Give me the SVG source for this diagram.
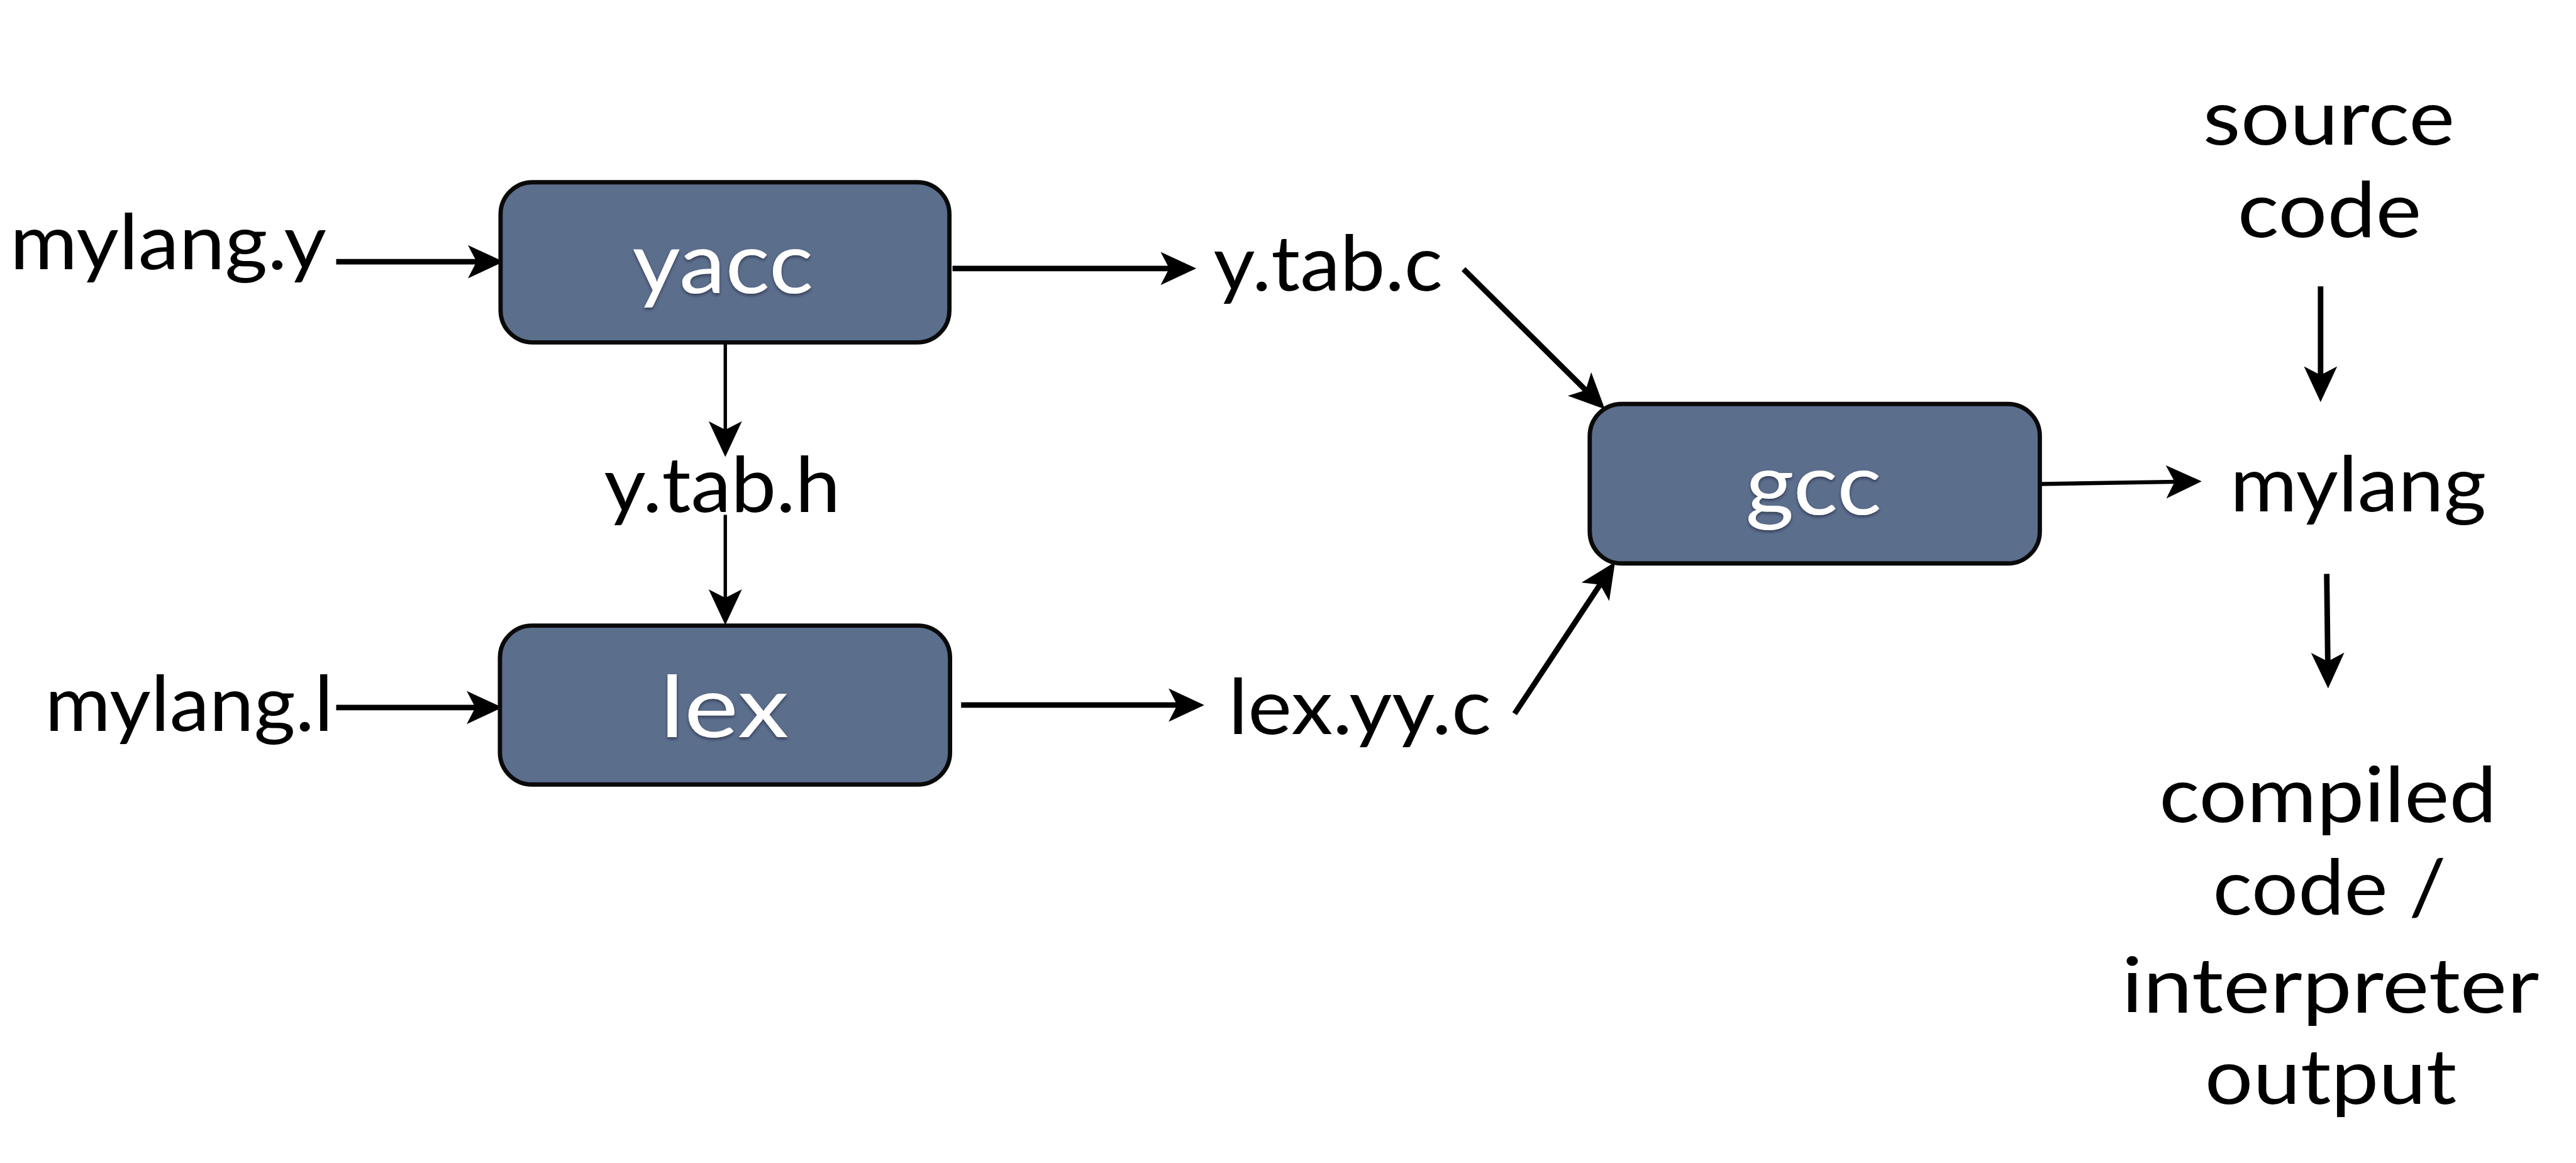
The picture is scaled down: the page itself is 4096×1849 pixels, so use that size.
<svg xmlns="http://www.w3.org/2000/svg" width="4096" height="1849" viewBox="0 0 4096 1849">
<style>
.lbl{font-family:Lato,"Open Sans","Liberation Sans",sans-serif;font-size:124px;fill:#000}
.btx{font-family:Lato,"Open Sans","Liberation Sans",sans-serif;font-size:138px;fill:#fff}
.box{fill:#5b6e8c;stroke:#0a0a0a;stroke-width:7}
.c{fill:none;stroke:#000;stroke-linecap:butt}
.w8{stroke-width:9}
.w5{stroke-width:5.5}
.w6{stroke-width:6.5}
</style>
<defs>
<marker id="ah" markerUnits="userSpaceOnUse" orient="auto" refX="36" refY="0" markerWidth="64" markerHeight="64" viewBox="0 -32 64 64" overflow="visible">
<path d="M58,0 L0,-27 L14,0 L0,27 Z" fill="#000"/>
</marker>
<filter id="sh" x="-10%" y="-10%" width="120%" height="130%">
<feDropShadow dx="0" dy="3" stdDeviation="2" flood-color="#1a2233" flood-opacity="0.6"/>
</filter>
</defs>
<rect width="4096" height="1849" fill="#fff"/>
<g transform="scale(0.979)">
<g id="connectors">
<path class="c w8" d="M546,425 L796,425" marker-end="url(#ah)"/>
<path class="c w8" d="M1547,436 L1921,436" marker-end="url(#ah)"/>
<path class="c w5" d="M1178,557 L1178,720" marker-end="url(#ah)"/>
<path class="c w5" d="M1178,836 L1178,993" marker-end="url(#ah)"/>
<path class="c w8" d="M546,1149 L794,1149" marker-end="url(#ah)"/>
<path class="c w8" d="M1561,1145 L1934,1145" marker-end="url(#ah)"/>
<path class="c w8" d="M2377,437 L2591,649" marker-end="url(#ah)"/>
<path class="c w8" d="M2460,1159 L2611,931" marker-end="url(#ah)"/>
<path class="c w6" d="M3314,786 L3554,782" marker-end="url(#ah)"/>
<path class="c w8" d="M3769,465 L3769,631" marker-end="url(#ah)"/>
<path class="c w8" d="M3779,932 L3781,1096" marker-end="url(#ah)"/>
</g>
<g id="yacc">
<rect class="box" x="813" y="296" width="729" height="260" rx="52"/>
<text class="btx" x="1027" y="476" textLength="294" lengthAdjust="spacingAndGlyphs" filter="url(#sh)">yacc</text>
</g>
<g id="lex">
<rect class="box" x="812" y="1016" width="731" height="258" rx="52"/>
<text class="btx" x="1072" y="1197" textLength="209" lengthAdjust="spacingAndGlyphs" filter="url(#sh)">lex</text>
</g>
<g id="gcc">
<rect class="box" x="2582" y="656" width="731" height="259" rx="52"/>
<text class="btx" x="2835" y="836" textLength="221" lengthAdjust="spacingAndGlyphs" filter="url(#sh)">gcc</text>
</g>
<g id="mylang_y"><text class="lbl" x="16" y="437" textLength="514" lengthAdjust="spacingAndGlyphs">mylang.y</text></g>
<g id="y_tab_h"><text class="lbl" x="981" y="831" textLength="384" lengthAdjust="spacingAndGlyphs">y.tab.h</text></g>
<g id="mylang_l"><text class="lbl" x="73" y="1187" textLength="468" lengthAdjust="spacingAndGlyphs">mylang.l</text></g>
<g id="y_tab_c"><text class="lbl" x="1971" y="472" textLength="372" lengthAdjust="spacingAndGlyphs">y.tab.c</text></g>
<g id="lex_yy_c"><text class="lbl" x="1995" y="1192" textLength="427" lengthAdjust="spacingAndGlyphs">lex.yy.c</text></g>
<g id="source_code">
<text class="lbl" x="3578" y="235" textLength="409" lengthAdjust="spacingAndGlyphs">source</text>
<text class="lbl" x="3634" y="385" textLength="299" lengthAdjust="spacingAndGlyphs">code</text>
</g>
<g id="mylang"><text class="lbl" x="3622" y="830" textLength="416" lengthAdjust="spacingAndGlyphs">mylang</text></g>
<g id="output">
<text class="lbl" x="3507" y="1335" textLength="548" lengthAdjust="spacingAndGlyphs">compiled</text>
<text class="lbl" x="3594" y="1485" textLength="379" lengthAdjust="spacingAndGlyphs">code /</text>
<text class="lbl" x="3446" y="1645" textLength="678" lengthAdjust="spacingAndGlyphs">interpreter</text>
<text class="lbl" x="3581" y="1793" textLength="409" lengthAdjust="spacingAndGlyphs">output</text>
</g>
</g>
</svg>
